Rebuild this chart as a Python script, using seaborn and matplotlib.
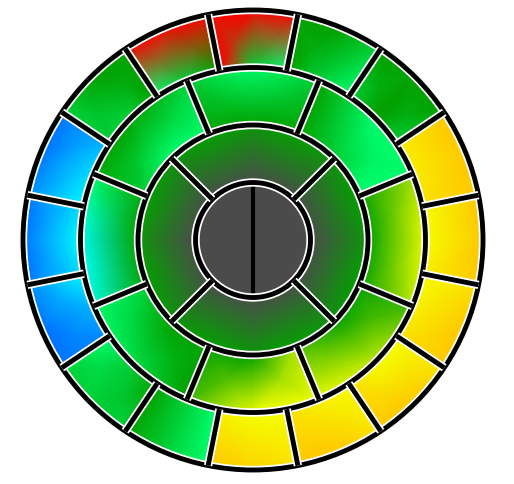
import numpy as np
import matplotlib
matplotlib.use("Agg")
import matplotlib.pyplot as plt
import matplotlib.patheffects as pe
from matplotlib.colors import Normalize
from matplotlib.patches import Wedge, Circle
import seaborn as sns

# colour scale: 0 blue, 1 cyan, 2 spring green, 3 green, 4 yellow, 5 gold, 6 red
scale_colors = ["#0070ff", "#00ffff", "#00ff6e", "#00a000", "#f5ff00", "#ffc800", "#ff0000"]

# ring edges (px), from centre outwards
ring_radii = [0, 57.5, 115, 172.5, 230]

# segment values going clockwise; each row = [start edge, middle, end edge]
# centre: right half, left half (no data -> grey)
center_inner = [[np.nan, np.nan, np.nan], [np.nan, np.nan, np.nan]]
center_outer = [[np.nan, np.nan, np.nan], [np.nan, np.nan, np.nan]]

# ring 2: top, right, bottom, left
ring2_inner = [[np.nan, np.nan, np.nan]] * 4
ring2_outer = [[3, 3, 3], [3, 3, 3], [3, 3, 3], [3, 3, 3]]

# ring 3: top, upper right, right, lower right, bottom, lower left, left, upper left
ring3_inner = [[3, 3, 3], [3, 2.5, 2], [3, 3, 3], [3, 3, 3.3],
               [3.7, 3, 3], [3, 3, 2.5], [3, 3, 3], [2.5, 2, 2]]
ring3_outer = [[2.5, 2, 2.5], [3, 2, 2], [3.7, 4, 3.8], [3.3, 3.8, 4],
               [4, 4, 3.3], [3, 2.3, 2], [1.2, 1, 2], [3, 3, 2.5]]

# ring 4: 16 segments starting at the top
ring4_inner = [[6, 2.5, 2], [3, 2.5, 2], [2.5, 3, 2.5], [4.3, 4.3, 4.5],
               [4, 4, 4.3], [4, 4.2, 4.5], [4, 4, 4.5], [4, 4.2, 4.5],
               [4, 4, 4.2], [2, 2.5, 3], [3, 2.5, 2], [0.2, 0.5, 1],
               [0.8, 1, 0.8], [1, 0.8, 0.5], [2.5, 2.5, 3], [2, 2.5, 3]]
ring4_outer = [[6, 6, 6], [3, 3, 2.5], [3, 3, 3], [5, 5, 5],
               [5, 5, 5], [4.6, 5, 5], [4.6, 5, 5], [4.5, 5, 5],
               [4.5, 4.8, 5], [2, 2.5, 3], [2.5, 2.5, 2.5], [0, 0, 0.2],
               [0, 0, 0], [0.2, 0, 0], [2.5, 3, 3], [6, 6, 6]]

sns.set_style("white")
cmap = sns.blend_palette(scale_colors, as_cmap=True)
cmap.set_bad("#4b4b4b")
norm = Normalize(0, 6)

fig = plt.figure(figsize=(5.14, 4.85), dpi=100)
ax = fig.add_axes([0, 0, 1, 1])


def draw_ring(r_in, r_out, first, inner_vals, outer_vals):
    n = len(inner_vals)
    width = 360 / n
    for k in range(n):
        c = first - k * width
        theta = np.radians([c + width / 2, c, c - width / 2])
        r_mesh = r_out / np.cos(np.radians(width / 4))
        R = np.array([[r_in] * 3, [r_mesh] * 3])
        X = R * np.cos(theta)
        Y = R * np.sin(theta)
        vals = np.array([inner_vals[k], outer_vals[k]], dtype=float)
        rgba = cmap(norm(vals))
        mesh = ax.pcolormesh(X, Y, rgba, shading="gouraud")
        clip = Wedge((0, 0), r_out, c - width / 2, c + width / 2,
                     width=r_out - r_in, transform=ax.transData)
        mesh.set_clip_path(clip)


draw_ring(ring_radii[0], ring_radii[1], 0, center_inner, center_outer)
draw_ring(ring_radii[1], ring_radii[2], 90, ring2_inner, ring2_outer)
draw_ring(ring_radii[2], ring_radii[3], 90, ring3_inner, ring3_outer)
draw_ring(ring_radii[3], ring_radii[4], 90, ring4_inner, ring4_outer)

halo = [pe.withStroke(linewidth=6, foreground="white")]

# segment borders
for r in ring_radii[1:]:
    ax.add_patch(Circle((0, 0), r, fill=False, ec="black", lw=3.5, zorder=3,
                        path_effects=halo))


def spokes(r_in, r_out, n, offset):
    for a in np.radians(offset + np.arange(n) * 360 / n):
        ax.plot([r_in * np.cos(a), r_out * np.cos(a)],
                [r_in * np.sin(a), r_out * np.sin(a)],
                color="black", lw=3.5, zorder=3, solid_capstyle="butt",
                path_effects=halo)


# centre split is one plain vertical line
ax.plot([0, 0], [-ring_radii[1], ring_radii[1]], color="black", lw=3,
        zorder=2.5, solid_capstyle="butt")
spokes(ring_radii[1], ring_radii[2], 4, 45)
spokes(ring_radii[2], ring_radii[3], 8, 22.5)
spokes(ring_radii[3], ring_radii[4], 16, 11.25)

ax.set_xlim(-253, 261)
ax.set_ylim(-244, 241)
ax.axis("off")

fig.savefig("out.png", dpi=100)
